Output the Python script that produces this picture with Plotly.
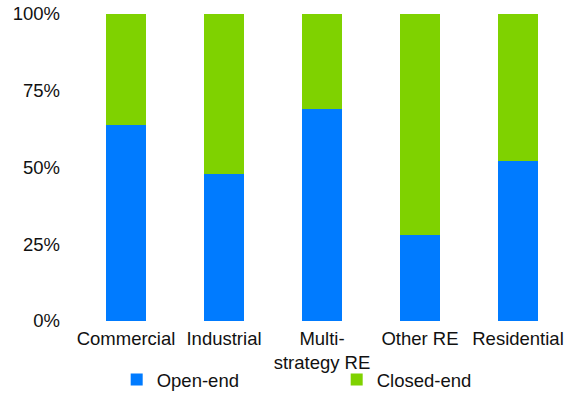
import plotly.graph_objects as go

categories = ["Commercial", "Industrial", "Multi-<br>strategy RE", "Other RE", "Residential"]
open_end = [64, 48, 69, 28, 52]
closed_end = [36, 52, 31, 72, 48]
tick_vals = [0, 25, 50, 75, 100]
tick_text = ["0%", "25%", "50%", "75%", "100%"]

fig = go.Figure()
fig.add_trace(go.Bar(x=categories, y=open_end, name="Open-end",
                     marker=dict(color="#007BFF", line=dict(width=0))))
fig.add_trace(go.Bar(x=categories, y=closed_end, name="Closed-end",
                     marker=dict(color="#7FD200", line=dict(width=0))))

fig.update_layout(
    width=567, height=394,
    barmode="stack", bargap=0.59,
    margin=dict(l=77, r=0, t=14, b=73, autoexpand=False),
    paper_bgcolor="white", plot_bgcolor="white",
    font=dict(family="Liberation Sans, Arial, sans-serif", size=18.5, color="#111111"),
    showlegend=True,
    legend=dict(orientation="h", x=0.081, xanchor="left", y=-0.13, yanchor="top",
                traceorder="normal",
                entrywidth=175, entrywidthmode="pixels",
                font=dict(size=18.5, color="#111111"), bgcolor="rgba(0,0,0,0)"),
    xaxis=dict(showgrid=False, showline=False, ticks="", tickangle=0, automargin=False,
               ticklabelstandoff=4, ticklabeloverflow="allow"),
    yaxis=dict(range=[0, 100], tickvals=tick_vals, ticktext=tick_text,
               showgrid=False, showline=False, zeroline=False, ticks="",
               ticklabelstandoff=16, automargin=False, ticklabeloverflow="allow"),
)

fig.write_html("out.html",
               config={"displayModeBar": False},
               post_script="document.body.style.margin='0';document.body.style.overflow='hidden';")
